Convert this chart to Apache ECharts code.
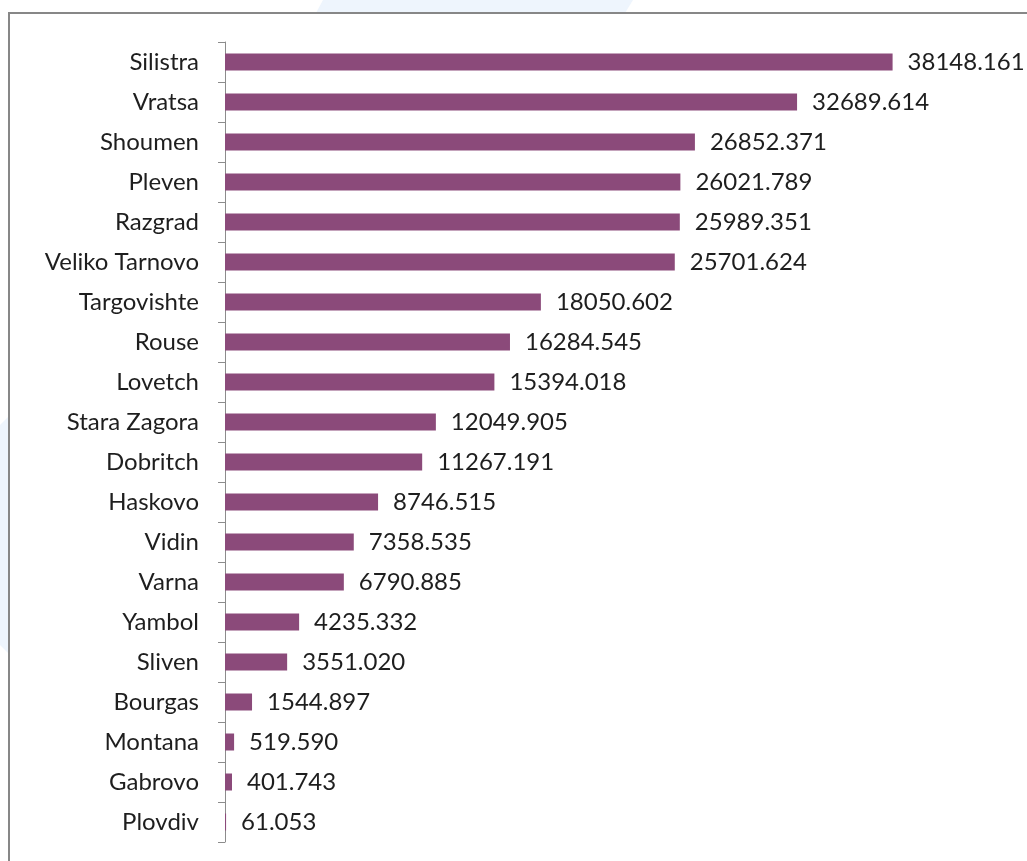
<!DOCTYPE html>
<html>
<head>
<meta charset="utf-8">
<script src="https://cdn.jsdelivr.net/npm/echarts@6/dist/echarts.min.js"></script>
<style>
html,body{margin:0;padding:0;background:#fff;}
#chart{width:1027px;height:861px;}
</style>
</head>
<body>
<div id="chart"></div>
<script>
const categories = ["Silistra","Vratsa","Shoumen","Pleven","Razgrad","Veliko Tarnovo","Targovishte","Rouse","Lovetch","Stara Zagora","Dobritch","Haskovo","Vidin","Varna","Yambol","Sliven","Bourgas","Montana","Gabrovo","Plovdiv"];
const values = [38148.161,32689.614,26852.371,26021.789,25989.351,25701.624,18050.602,16284.545,15394.018,12049.905,11267.191,8746.515,7358.535,6790.885,4235.332,3551.020,1544.897,519.590,401.743,61.053];

const chart = echarts.init(document.getElementById('chart'), null, {renderer:'canvas'});
const font = 'Lato';
chart.setOption({
  backgroundColor: '#ffffff',
  animation: false,
  graphic: [
    {type:'polygon', z:-10, shape:{points:[[323,0],[633,0],[625,13],[316,13]]}, style:{fill:'#EEF5FD'}},
    {type:'polygon', z:-10, shape:{points:[[0,425],[8,417],[8,653],[0,645]]}, style:{fill:'#EEF5FD'}},
    {type:'rect', z:-5, shape:{x:9,y:13,width:1100,height:900}, style:{fill:'none',stroke:'#878787',lineWidth:2}}
  ],
  grid: {left:225, top:42, width:770, height:800, containLabel:false},
  xAxis: {type:'value', min:0, max:44000, show:false, splitLine:{show:false}},
  yAxis: {
    type:'category', data:categories, inverse:true,
    axisLine:{show:true, lineStyle:{color:'#8c8c8c', width:1}},
    axisTick:{show:true, length:7, lineStyle:{color:'#8c8c8c'}},
    axisLabel:{margin:26, color:'#1e1e1e', fontFamily:font, fontSize:24}
  },
  series: [{
    type:'bar', data:values, barWidth:17,
    itemStyle:{color:'#8B4A7A'},
    label:{show:true, position:'right', distance:15, color:'#1e1e1e', fontFamily:font, fontSize:24,
      formatter: p => p.value.toFixed(3)}
  }]
});
</script>
</body>
</html>
